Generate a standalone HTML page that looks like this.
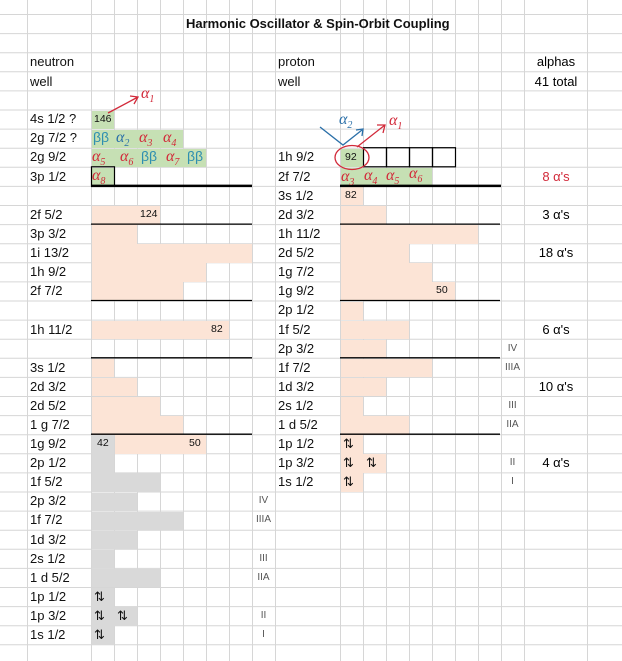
<!DOCTYPE html>
<html><head><meta charset="utf-8"><style>
body{margin:0;width:622px;height:661px;background:#fff;position:relative;overflow:hidden;font-family:"Liberation Sans",sans-serif;}
.t{position:absolute;font-size:13px;color:#111;line-height:19px;white-space:nowrap;}
.s{position:absolute;font-size:10.5px;color:#111;line-height:19px;white-space:nowrap;}
.r{position:absolute;font-size:10px;color:#555;line-height:19px;width:23px;text-align:center;}
.a{position:absolute;font-size:13px;line-height:19px;width:64px;text-align:center;}
.h{position:absolute;font-family:"Liberation Serif",serif;font-style:italic;font-size:16px;line-height:19px;white-space:nowrap;}
.h sub{font-size:10px;}
.red{color:#d22a3a}.blu{color:#2a6fa8}.teal{color:#2f8fb0}
#fl div{position:absolute}
</style></head><body>
<svg id="gr" width="622" height="661" style="position:absolute;left:0;top:0"></svg>
<div id="fl"></div>
<svg id="ov" width="622" height="661" style="position:absolute;left:0;top:0"></svg>
<div class="t" style="left:186px;top:14px;font-weight:bold;">Harmonic Oscillator &amp; Spin-Orbit Coupling</div>
<div class="t" style="left:30px;top:52px">neutron</div>
<div class="t" style="left:30px;top:72px">well</div>
<div class="t" style="left:278px;top:52px">proton</div>
<div class="t" style="left:278px;top:72px">well</div>
<div class="a" style="left:524px;top:52px">alphas</div>
<div class="a" style="left:524px;top:72px">41 total</div>

<div class="t" style="left:30px;top:109px">4s 1/2 ?</div>
<div class="t" style="left:30px;top:128px">2g 7/2 ?</div>
<div class="t" style="left:30px;top:147px">2g 9/2</div>
<div class="t" style="left:30px;top:167px">3p 1/2</div>
<div class="t" style="left:30px;top:205px">2f 5/2</div>
<div class="t" style="left:30px;top:224px">3p 3/2</div>
<div class="t" style="left:30px;top:243px">1i 13/2</div>
<div class="t" style="left:30px;top:262px">1h 9/2</div>
<div class="t" style="left:30px;top:281px">2f 7/2</div>
<div class="t" style="left:30px;top:320px">1h 11/2</div>
<div class="t" style="left:30px;top:358px">3s 1/2</div>
<div class="t" style="left:30px;top:377px">2d 3/2</div>
<div class="t" style="left:30px;top:396px">2d 5/2</div>
<div class="t" style="left:30px;top:415px">1 g 7/2</div>
<div class="t" style="left:30px;top:434px">1g 9/2</div>
<div class="t" style="left:30px;top:453px">2p 1/2</div>
<div class="t" style="left:30px;top:472px">1f 5/2</div>
<div class="t" style="left:30px;top:491px">2p 3/2</div>
<div class="t" style="left:30px;top:510px">1f 7/2</div>
<div class="t" style="left:30px;top:530px">1d 3/2</div>
<div class="t" style="left:30px;top:549px">2s 1/2</div>
<div class="t" style="left:30px;top:568px">1 d 5/2</div>
<div class="t" style="left:30px;top:587px">1p 1/2</div>
<div class="t" style="left:30px;top:606px">1p 3/2</div>
<div class="t" style="left:30px;top:625px">1s 1/2</div>

<div class="t" style="left:278px;top:147px">1h 9/2</div>
<div class="t" style="left:278px;top:167px">2f 7/2</div>
<div class="t" style="left:278px;top:186px">3s 1/2</div>
<div class="t" style="left:278px;top:205px">2d 3/2</div>
<div class="t" style="left:278px;top:224px">1h 11/2</div>
<div class="t" style="left:278px;top:243px">2d 5/2</div>
<div class="t" style="left:278px;top:262px">1g 7/2</div>
<div class="t" style="left:278px;top:281px">1g 9/2</div>
<div class="t" style="left:278px;top:300px">2p 1/2</div>
<div class="t" style="left:278px;top:320px">1f 5/2</div>
<div class="t" style="left:278px;top:339px">2p 3/2</div>
<div class="t" style="left:278px;top:358px">1f 7/2</div>
<div class="t" style="left:278px;top:377px">1d 3/2</div>
<div class="t" style="left:278px;top:396px">2s 1/2</div>
<div class="t" style="left:278px;top:415px">1 d 5/2</div>
<div class="t" style="left:278px;top:434px">1p 1/2</div>
<div class="t" style="left:278px;top:453px">1p 3/2</div>
<div class="t" style="left:278px;top:472px">1s 1/2</div>

<div class="a red" style="left:524px;top:167px">8 α's</div>
<div class="a" style="left:524px;top:205px">3 α's</div>
<div class="a" style="left:524px;top:243px">18 α's</div>
<div class="a" style="left:524px;top:320px">6 α's</div>
<div class="a" style="left:524px;top:377px">10 α's</div>
<div class="a" style="left:524px;top:453px">4 α's</div>

<div class="s" style="left:94px;top:110px">146</div>
<div class="s" style="left:140px;top:205px">124</div>
<div class="s" style="left:211px;top:320px">82</div>
<div class="s" style="left:97px;top:434px">42</div>
<div class="s" style="left:189px;top:434px">50</div>
<div class="s" style="left:345px;top:148px">92</div>
<div class="s" style="left:345px;top:186px">82</div>
<div class="s" style="left:436px;top:281px">50</div>

<div class="r" style="left:252px;top:491px">IV</div>
<div class="r" style="left:252px;top:510px">IIIA</div>
<div class="r" style="left:252px;top:549px">III</div>
<div class="r" style="left:252px;top:568px">IIA</div>
<div class="r" style="left:252px;top:606px">II</div>
<div class="r" style="left:252px;top:625px">I</div>
<div class="r" style="left:501px;top:339px">IV</div>
<div class="r" style="left:501px;top:358px">IIIA</div>
<div class="r" style="left:501px;top:396px">III</div>
<div class="r" style="left:501px;top:415px">IIA</div>
<div class="r" style="left:501px;top:453px">II</div>
<div class="r" style="left:501px;top:472px">I</div>

<div class="t" style="left:94px;top:587px">⇅</div>
<div class="t" style="left:94px;top:606px">⇅</div>
<div class="t" style="left:117px;top:606px">⇅</div>
<div class="t" style="left:94px;top:625px">⇅</div>
<div class="t" style="left:343px;top:434px">⇅</div>
<div class="t" style="left:343px;top:453px">⇅</div>
<div class="t" style="left:366px;top:453px">⇅</div>
<div class="t" style="left:343px;top:472px">⇅</div>

<div class="h red" style="left:141px;top:84px">α<sub>1</sub></div>
<div class="t teal" style="left:93px;top:128px;font-size:14px">ββ</div>
<div class="h blu" style="left:116px;top:128px">α<sub>2</sub></div>
<div class="h red" style="left:139px;top:128px">α<sub>3</sub></div>
<div class="h red" style="left:163px;top:128px">α<sub>4</sub></div>
<div class="h red" style="left:92px;top:147px">α<sub>5</sub></div>
<div class="h red" style="left:120px;top:147px">α<sub>6</sub></div>
<div class="t teal" style="left:141px;top:147px;font-size:14px">ββ</div>
<div class="h red" style="left:166px;top:147px">α<sub>7</sub></div>
<div class="t teal" style="left:187px;top:147px;font-size:14px">ββ</div>
<div class="h red" style="left:92px;top:166px">α<sub>8</sub></div>
<div class="h blu" style="left:339px;top:110px">α<sub>2</sub></div>
<div class="h red" style="left:389px;top:111px">α<sub>1</sub></div>
<div class="h red" style="left:341px;top:167px">α<sub>3</sub></div>
<div class="h red" style="left:364px;top:166px">α<sub>4</sub></div>
<div class="h red" style="left:386px;top:166px">α<sub>5</sub></div>
<div class="h red" style="left:409px;top:164px">α<sub>6</sub></div>
<script>
(function(){
var fl=document.getElementById('fl'),gr=document.getElementById('gr'),ov=document.getElementById('ov');
function rowTop(r){return 14+19.1*r;}
function addFill(x,r,n,c){var d=document.createElement('div');d.style.cssText='left:'+(x+1)+'px;top:'+(rowTop(r)+1)+'px;width:'+(23*n-1)+'px;height:18.6px;background:'+c;fl.appendChild(d);}
var P='#fce4d6',G='#c6e0b4',Y='#d9d9d9';
var NX=91,PX=340;
[[5,1,G],[6,4,G],[7,5,G],[8,1,G],[10,3,P],[11,2,P],[12,7,P],[13,5,P],[14,4,P],[16,6,P],[18,1,P],[19,2,P],[20,3,P],[21,4,P],[22,1,Y],[23,1,Y],[24,3,Y],[25,2,Y],[26,4,Y],[27,2,Y],[28,1,Y],[29,3,Y],[30,1,Y],[31,2,Y],[32,1,Y]].forEach(function(a){addFill(NX,a[0],a[1],a[2]);});
addFill(114,22,4,P);
[[7,1,G],[8,4,G],[9,1,P],[10,2,P],[11,6,P],[12,3,P],[13,4,P],[14,5,P],[15,1,P],[16,3,P],[17,2,P],[18,4,P],[19,2,P],[20,1,P],[21,3,P],[22,1,P],[23,2,P],[24,1,P]].forEach(function(a){addFill(PX,a[0],a[1],a[2]);});
var out='';
var xs=[27,91,114,137,160,183,206,229,252,275,340,363,386,409,432,455,478,501,524,587];
xs.forEach(function(x){out+='<line x1="'+(x+.5)+'" y1="0" x2="'+(x+.5)+'" y2="661" stroke="#d6d6d6"/>';});
for(var r=0;r<35;r++){var y=rowTop(r)+.5;out+='<line x1="0" y1="'+y+'" x2="622" y2="'+y+'" stroke="#d6d6d6"/>';}
gr.innerHTML=out;
out='';
function hline(x1,x2,r,w){var y=rowTop(r+1);out+='<line x1="'+x1+'" y1="'+y+'" x2="'+x2+'" y2="'+y+'" stroke="#000" stroke-width="'+w+'"/>';}
hline(91,252,8,2.5);[10,14,17,21].forEach(function(r){hline(91,252,r,1.3);});
hline(340,501,8,2.5);[10,14,17,21].forEach(function(r){hline(340,500,r,1.3);});
out+='<rect x="91.5" y="'+rowTop(8)+'" width="23" height="19.1" fill="none" stroke="#000" stroke-width="1.2"/>';
for(var i=1;i<5;i++)out+='<rect x="'+(340.5+23*i)+'" y="'+rowTop(7)+'" width="23" height="19.1" fill="none" stroke="#000" stroke-width="1.2"/>';
out+='<ellipse cx="352" cy="157.5" rx="17" ry="12" fill="none" stroke="#d22a3a" stroke-width="1.3"/>';
out+='<path d="M108 113 L138 97 M130 96 L138 97 L134 104" fill="none" stroke="#d22a3a" stroke-width="1.3"/>';
out+='<path d="M357 147 L385 125 M377 125 L385 125 L383 133" fill="none" stroke="#d22a3a" stroke-width="1.3"/>';
out+='<path d="M320 127 L343 145 L362 130 M356 130 L363 129 L362 136" fill="none" stroke="#2a6fa8" stroke-width="1.3"/>';
ov.innerHTML=out;
})();
</script>
</body></html>
